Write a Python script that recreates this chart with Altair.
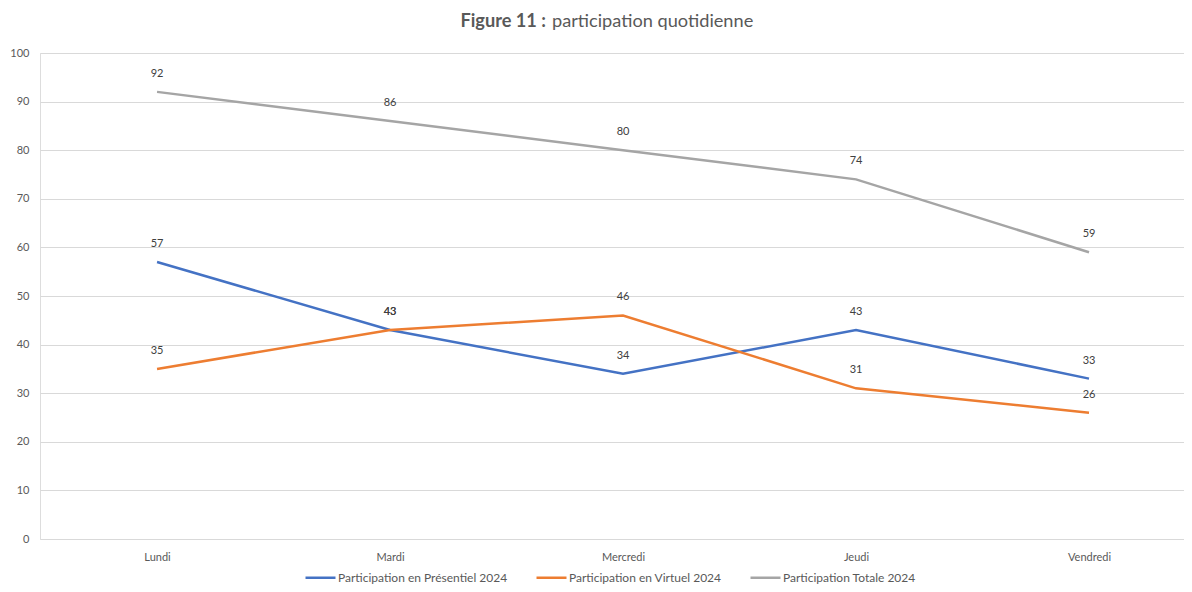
import altair as alt
import pandas as pd

# ---- data ----
jours = ["Lundi", "Mardi", "Mercredi", "Jeudi", "Vendredi"]
presentiel = [57, 43, 34, 43, 33]
virtuel = [35, 43, 46, 31, 26]
totale = [92, 86, 80, 74, 59]
series = [
    "Participation en Présentiel 2024",
    "Participation en Virtuel 2024",
    "Participation Totale 2024",
]
couleurs = ["#4472C4", "#ED7D31", "#A5A5A5"]
titre_gras = ["Figure 11 :"]
titre_normal = ["participation quotidienne"]
y_ticks = [0, 10, 20, 30, 40, 50, 60, 70, 80, 90, 100]

rows = []
for s, vals in zip(series, [presentiel, virtuel, totale]):
    for j, v in zip(jours, vals):
        rows.append({"jour": j, "serie": s, "valeur": v})
df = pd.DataFrame(rows)

FONT = "Lato"
GREY = "#595959"
W, H = 1144, 486

x_enc = alt.X(
    "jour:N",
    sort=jours,
    scale=alt.Scale(type="point", padding=0.455, align=0.552),
    axis=alt.Axis(
        title=None, labelAngle=0, ticks=False, domain=False, grid=False,
        labelPadding=12, labelFontSize=11, labelColor=GREY, labelFont=FONT,
    ),
)
y_enc = alt.Y(
    "valeur:Q",
    scale=alt.Scale(domain=[0, 100], nice=False),
    axis=alt.Axis(
        title=None, values=y_ticks, ticks=False, domain=False,
        gridColor="#D9D9D9", gridWidth=1, labelPadding=11,
        labelFontSize=11, labelColor=GREY, labelFont=FONT,
    ),
)

base = alt.Chart(df)

lines = base.mark_line(strokeWidth=2.5).encode(
    x=x_enc,
    y=y_enc,
    color=alt.Color(
        "serie:N",
        scale=alt.Scale(domain=series, range=couleurs),
        legend=alt.Legend(
            title=None, orient="none", legendX=264, legendY=508,
            direction="horizontal", symbolType="stroke", symbolSize=900,
            symbolStrokeWidth=2.5, labelOffset=1, columnPadding=23,
            labelFontSize=12, labelColor=GREY, labelFont=FONT,
            labelLimit=400,
        ),
    ),
)

labels = base.mark_text(dy=-18, fontSize=11, color="#404040", font=FONT).encode(
    x=x_enc, y=y_enc, text="valeur:Q"
)

t1 = alt.Chart(pd.DataFrame({"t": titre_gras})).mark_text(
    align="right", baseline="middle", fontWeight="bold", fontSize=18.2,
    color=GREY, font=FONT,
).encode(x=alt.value(506), y=alt.value(-31), text="t:N")

t2 = alt.Chart(pd.DataFrame({"t": titre_normal})).mark_text(
    align="left", baseline="middle", fontSize=18.2, color=GREY, font=FONT,
).encode(x=alt.value(512), y=alt.value(-31), text="t:N")

chart = (
    alt.layer(lines, labels, t1, t2)
    .properties(
        width=W, height=H,
        autosize=alt.AutoSizeParams(type="none"),
        padding={"left": 32, "top": 45, "right": 0, "bottom": 45},
    )
    .configure_view(strokeWidth=0)
    .configure(background="white")
)

chart.save("out.html", embed_options={"renderer": "svg", "actions": False})
